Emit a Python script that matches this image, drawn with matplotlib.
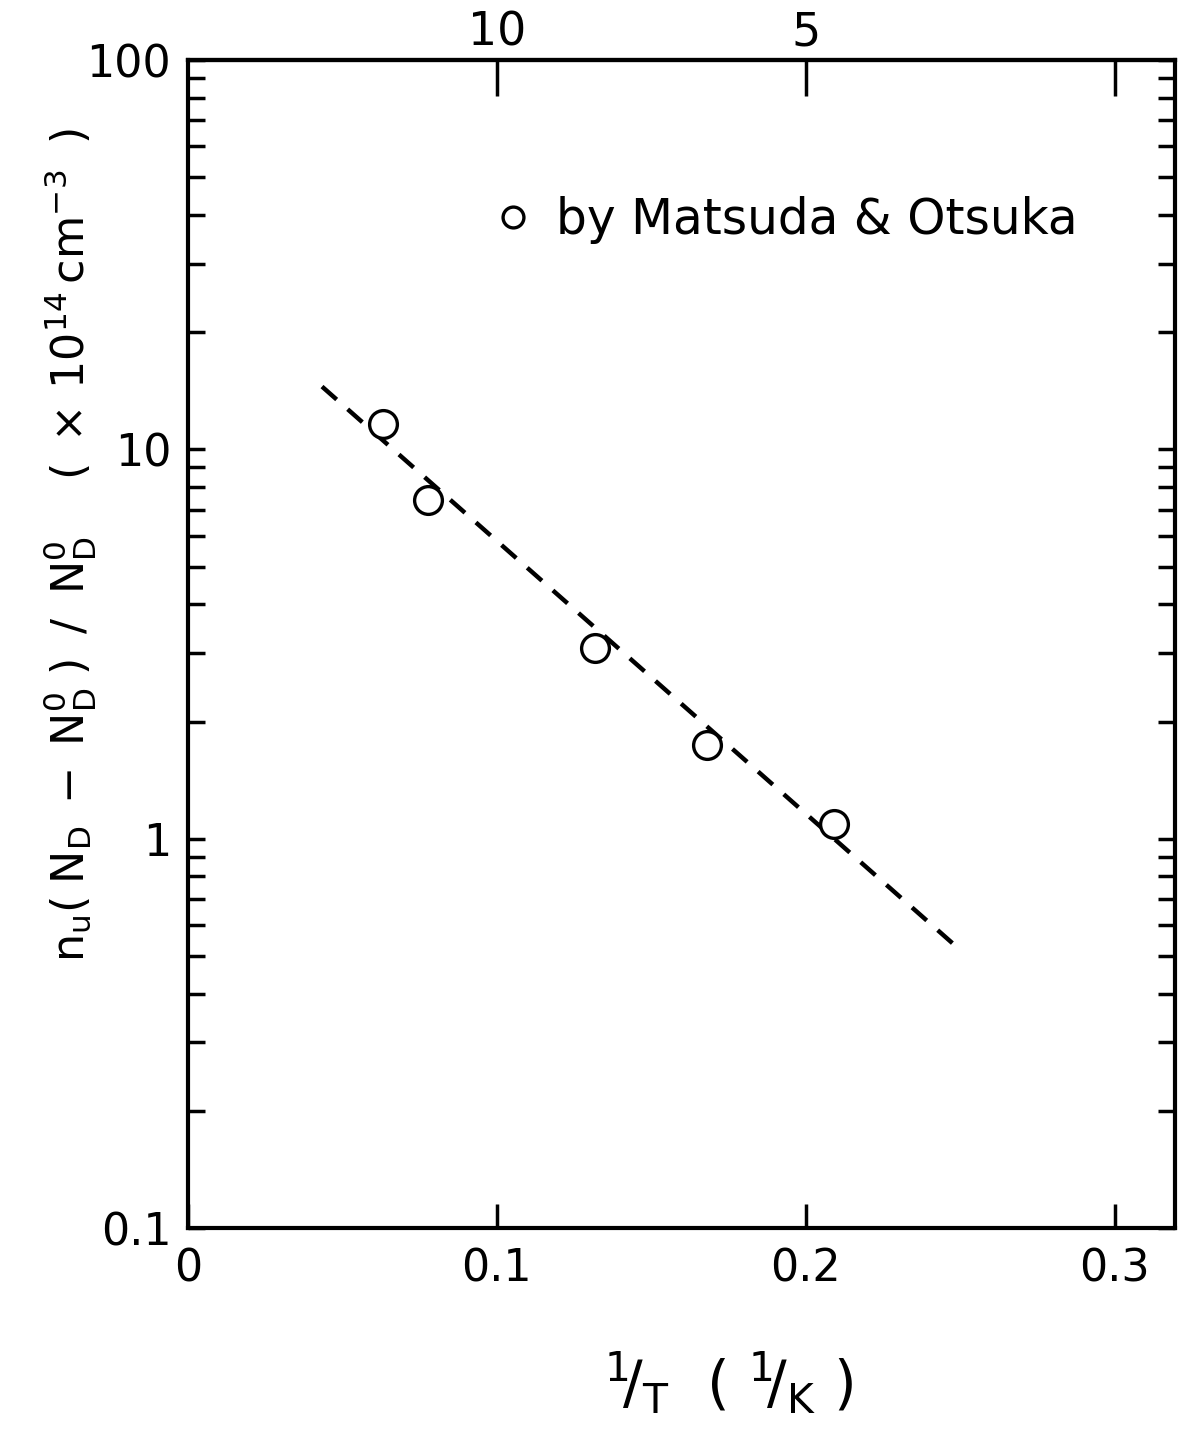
import numpy as np
import matplotlib
matplotlib.use("Agg")
import matplotlib.pyplot as plt
from matplotlib.ticker import LogLocator, NullFormatter

# measured points (Matsuda & Otsuka)
invT = [0.063, 0.0777, 0.1317, 0.168, 0.209]
nu = [11.6, 7.4, 3.09, 1.74, 1.09]

# dashed fit line end points
fitX = [0.0434, 0.2476]
fitY = [14.5, 0.538]

# ticks
xTicks = [0, 0.1, 0.2, 0.3]
xTickLabels = ["0", "0.1", "0.2", "0.3"]
yTicks = [0.1, 1, 10, 100]
yTickLabels = ["0.1", "1", "10", "100"]
topTicks = [0.1, 0.2, 0.3]
topTickLabels = ["10", "5", ""]

plt.rcParams['font.family'] = 'DejaVu Sans'
plt.rcParams['mathtext.fontset'] = 'dejavusans'

fig = plt.figure(figsize=(11.97, 14.37), dpi=100)
ax = fig.add_axes([0.157, 0.1454, 0.8246, 0.8128])

# fit line
line, = ax.plot(fitX, fitY, color='black', lw=3.2, zorder=2)
line.set_dashes([4.4, 3.3])
# data
ax.plot(invT, nu, 'o', mfc='white', mec='black', mew=2.4, ms=20, ls='none', zorder=3)

ax.set_yscale('log')
ax.set_xlim(0, 0.3195)
ax.set_ylim(0.1, 100)

for s in ax.spines.values():
    s.set_linewidth(3)

ax.set_xticks(xTicks)
ax.set_xticklabels(xTickLabels, fontsize=32)
ax.set_yticks(yTicks)
ax.set_yticklabels(yTickLabels, fontsize=32)
ax.yaxis.set_minor_locator(LogLocator(base=10, subs=np.arange(2, 10)))
ax.yaxis.set_minor_formatter(NullFormatter())
ax.tick_params(axis='y', which='both', direction='in', left=True, right=True,
               length=12, width=2.5, pad=12)
ax.tick_params(axis='x', which='major', direction='in', bottom=True, top=False,
               length=17, width=2.5, pad=14)

# top axis: temperature
top = ax.secondary_xaxis('top')
top.set_xticks(topTicks)
top.set_xticklabels(topTickLabels, fontsize=33)
top.tick_params(direction='in', length=26, width=2.5, pad=3)
top.spines['top'].set_linewidth(3)

ax.set_xlabel(r'$^{\mathregular{1}}\!/_{\mathregular{T}}$  ( $^{\mathregular{1}}\!/_{\mathregular{K}}$ )',
              fontsize=42)
ax.xaxis.set_label_coords(0.548, -0.105)
ax.set_ylabel(r'$\mathregular{n_u(\;N_D\;-\;N_D^0\;)\;\;/\;\;N_D^0\quad\;(\;\times\,10^{14}\,cm^{-3}\;\;)}$',
              fontsize=32)
ax.yaxis.set_label_coords(-0.09, 0.585)

ax.plot([], [], 'o', mfc='white', mec='black', mew=2.4, ms=15, ls='none',
        label='by Matsuda & Otsuka')
h, l = ax.get_legend_handles_labels()
ax.legend(h[-1:], l[-1:], loc='center left', bbox_to_anchor=(0.265, 0.863),
          frameon=False, fontsize=35, handlelength=0.8, handletextpad=0.5)

fig.savefig('out.png', dpi=100)
